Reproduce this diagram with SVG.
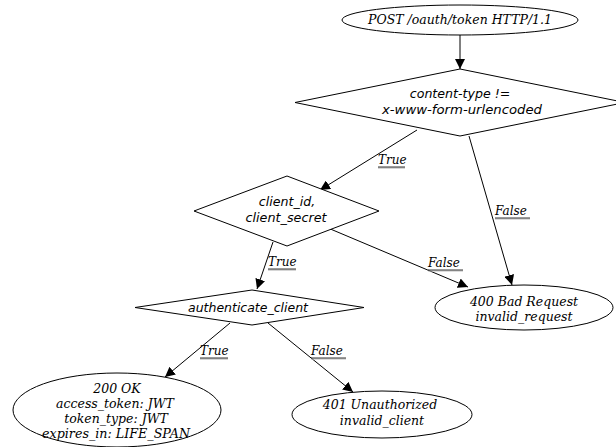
<svg xmlns="http://www.w3.org/2000/svg" width="616" height="447" viewBox="0 0 616 447">
<style>
  .shape { fill: #ffffff; stroke: #000000; stroke-width: 1; }
  .edge { fill: none; stroke: #000000; stroke-width: 1; }
  .serif { font-family: "DejaVu Serif", "Liberation Serif", serif; font-style: italic; font-size: 12.5px; fill: #000; text-anchor: middle; }
  .sans { font-family: "DejaVu Sans", "Liberation Sans", sans-serif; font-style: italic; font-size: 12.6px; fill: #000; text-anchor: middle; }
  .lbl { font-family: "DejaVu Serif", "Liberation Serif", serif; font-style: italic; font-size: 12px; fill: #000; text-anchor: start; }
  .ul { stroke: #000; stroke-width: 0.8; }
  .ulsh { stroke: #bbbbbb; stroke-width: 1.2; }
</style>
<defs>
  <marker id="arrow" viewBox="0 0 10 10" refX="10" refY="5" markerWidth="10" markerHeight="10" markerUnits="userSpaceOnUse" orient="auto">
    <path d="M0,0 L10,5 L0,10 z" fill="#000"/>
  </marker>
</defs>
<rect width="616" height="447" fill="#ffffff"/>

<g id="edges">
  <line class="edge" x1="460" y1="35" x2="460" y2="69" marker-end="url(#arrow)"/>
  <line class="edge" x1="417" y1="130" x2="320" y2="190" marker-end="url(#arrow)"/>
  <line class="edge" x1="469" y1="136" x2="512" y2="285" marker-end="url(#arrow)"/>
  <line class="edge" x1="328" y1="228" x2="468" y2="287" marker-end="url(#arrow)"/>
  <line class="edge" x1="273" y1="242" x2="257" y2="289" marker-end="url(#arrow)"/>
  <line class="edge" x1="230" y1="323" x2="165" y2="377" marker-end="url(#arrow)"/>
  <line class="edge" x1="268" y1="323" x2="353" y2="392" marker-end="url(#arrow)"/>

  <text class="lbl" x="378" y="164">True</text>
  <line class="ulsh" x1="378" y1="168" x2="405" y2="168"/>
  <line class="ul" x1="378" y1="167" x2="405" y2="167"/>

  <text class="lbl" x="495" y="215">False</text>
  <line class="ulsh" x1="495" y1="219" x2="530" y2="219"/>
  <line class="ul" x1="495" y1="218" x2="530" y2="218"/>

  <text class="lbl" x="428" y="267">False</text>
  <line class="ulsh" x1="428" y1="271" x2="463" y2="271"/>
  <line class="ul" x1="428" y1="270" x2="463" y2="270"/>

  <text class="lbl" x="268" y="266">True</text>
  <line class="ulsh" x1="268" y1="270" x2="296" y2="270"/>
  <line class="ul" x1="268" y1="269" x2="296" y2="269"/>

  <text class="lbl" x="200" y="355">True</text>
  <line class="ulsh" x1="200" y1="359" x2="228" y2="359"/>
  <line class="ul" x1="200" y1="358" x2="228" y2="358"/>

  <text class="lbl" x="311" y="355">False</text>
  <line class="ulsh" x1="311" y1="359" x2="346" y2="359"/>
  <line class="ul" x1="311" y1="358" x2="346" y2="358"/>
</g>

<g id="start">
  <ellipse class="shape" cx="460" cy="20" rx="118" ry="15"/>
  <text class="serif" x="460" y="24" textLength="184" lengthAdjust="spacingAndGlyphs">POST /oauth/token HTTP/1.1</text>
</g>

<g id="content_type">
  <polygon class="shape" points="460,69 625,102.5 460,136 295,102.5"/>
  <text class="sans" x="460" y="98">content-type !=</text>
  <text class="sans" x="462" y="114" textLength="160" lengthAdjust="spacingAndGlyphs">x-www-form-urlencoded</text>
</g>

<g id="client_cred">
  <polygon class="shape" points="287,176 379,211 287,246 194,211"/>
  <text class="sans" x="287" y="206">client_id,</text>
  <text class="sans" x="286" y="222" textLength="81" lengthAdjust="spacingAndGlyphs">client_secret</text>
</g>

<g id="authenticate">
  <polygon class="shape" points="252,290 364,307.5 252,325 135,307.5"/>
  <text class="sans" x="248" y="312" textLength="120" lengthAdjust="spacingAndGlyphs">authenticate_client</text>
</g>

<g id="bad_request">
  <ellipse class="shape" cx="524" cy="307.5" rx="89" ry="22.5"/>
  <text class="serif" x="524" y="306">400 Bad Request</text>
  <text class="serif" x="524" y="321">invalid_request</text>
</g>

<g id="ok">
  <ellipse class="shape" cx="117" cy="410" rx="104" ry="37"/>
  <text class="serif" x="117" y="393">200 OK</text>
  <text class="serif" x="115" y="408">access_token: JWT</text>
  <text class="serif" x="116" y="423">token_type: JWT</text>
  <text class="serif" x="116" y="438" textLength="148" lengthAdjust="spacingAndGlyphs">expires_in: LIFE_SPAN</text>
</g>

<g id="unauthorized">
  <ellipse class="shape" cx="382" cy="414.5" rx="90" ry="23.5"/>
  <text class="serif" x="380" y="409">401 Unauthorized</text>
  <text class="serif" x="382" y="425">invalid_client</text>
</g>
</svg>
